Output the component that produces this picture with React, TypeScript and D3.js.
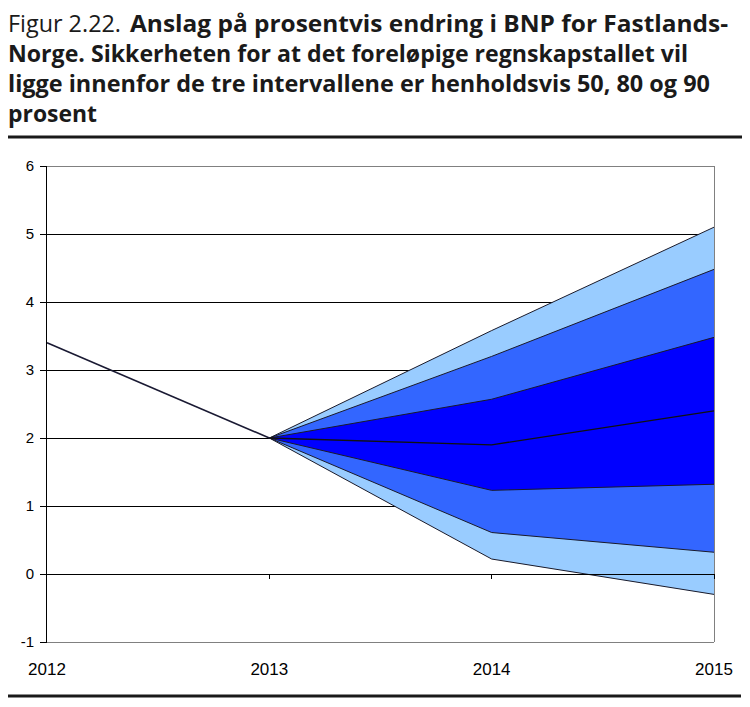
import React from "react";
import * as d3 from "d3";

const years = ["2012", "2013", "2014", "2015"];
const history = [3.4, 2.0];
const forecastYears = ["2013", "2014", "2015"];
const median = [2.0, 1.9, 2.4];
const upper50 = [2.0, 2.57, 3.48];
const lower50 = [2.0, 1.23, 1.32];
const upper80 = [2.0, 3.2, 4.48];
const lower80 = [2.0, 0.61, 0.32];
const upper90 = [2.0, 3.58, 5.1];
const lower90 = [2.0, 0.22, -0.3];
const yTicks = [-1, 0, 1, 2, 3, 4, 5, 6];
const titleLines = [
  "Anslag på prosentvis endring i BNP for Fastlands-",
  "Norge. Sikkerheten for at det foreløpige regnskapstallet vil",
  "ligge innenfor de tre intervallene er henholdsvis 50, 80 og 90",
  "prosent",
];
const titlePrefix = "Figur 2.22.";

export default function App() {
  const x = d3.scalePoint<string>().domain(years).range([47, 714]);
  const y = d3.scaleLinear().domain([-1, 6]).range([642, 166]);

  const bandArea = (up: number[], lo: number[]) =>
    d3
      .area<number>()
      .x((_, i) => x(forecastYears[i])!)
      .y0((_, i) => y(lo[i]))
      .y1((_, i) => y(up[i]))(up.map((_, i) => i)) || "";
  const line = (vals: number[], cats: string[]) =>
    d3
      .line<number>()
      .x((_, i) => x(cats[i])!)
      .y((v) => y(v))(vals) || "";

  const bands = [
    { up: upper90, lo: lower90, fill: "#99CCFF" },
    { up: upper80, lo: lower80, fill: "#3366FF" },
    { up: upper50, lo: lower50, fill: "#0000FF" },
  ];
  const edges = [upper90, lower90, upper80, lower80, upper50, lower50];
  const titleWidths = [598, 680, 702, 89];
  const titleX = [130, 8, 8, 8];

  return (
    <svg
      width={750}
      height={707}
      style={{ position: "absolute", left: 0, top: 0, background: "#fff" }}
    >
      {/* Title */}
      <text
        x={8}
        y={32}
        fontFamily="'Open Sans', sans-serif"
        fontSize={24}
        fontWeight={400}
        fill="#1a1a1a"
        textLength={113}
        lengthAdjust="spacingAndGlyphs"
      >
        {titlePrefix}
      </text>
      {titleLines.map((t, i) => (
        <text
          key={i}
          x={titleX[i]}
          y={32 + i * 30}
          fontFamily="'Open Sans', sans-serif"
          fontSize={24}
          fontWeight={700}
          fill="#1a1a1a"
          textLength={titleWidths[i]}
          lengthAdjust="spacingAndGlyphs"
        >
          {t}
        </text>
      ))}
      <line x1={8} x2={742} y1={137} y2={137} stroke="#1a1a1a" strokeWidth={3} />

      {/* Gridlines */}
      {yTicks
        .filter((t) => t > -1 && t < 6)
        .map((t) => (
          <line
            key={t}
            x1={47}
            x2={714}
            y1={y(t)}
            y2={y(t)}
            stroke="#000"
            strokeWidth={1}
            shapeRendering="crispEdges"
          />
        ))}

      {/* Bands */}
      {bands.map((b, i) => (
        <path key={i} d={bandArea(b.up, b.lo)} fill={b.fill} stroke="none" />
      ))}
      {edges.map((e, i) => (
        <path key={i} d={line(e, forecastYears)} fill="none" stroke="#1a1a2a" strokeWidth={1} />
      ))}
      <path d={line(median, forecastYears)} fill="none" stroke="#111" strokeWidth={1.3} />
      <path d={line(history, years.slice(0, 2))} fill="none" stroke="#1a1a33" strokeWidth={1.6} />

      {/* Plot border */}
      <g shapeRendering="crispEdges">
        <line x1={47} x2={714} y1={y(6)} y2={y(6)} stroke="#808080" strokeWidth={1} />
        <line x1={714} x2={714} y1={y(6)} y2={y(-1)} stroke="#808080" strokeWidth={1} />
        <line x1={47} x2={714} y1={y(-1)} y2={y(-1)} stroke="#808080" strokeWidth={1} />

        {/* Category axis at 0 */}
        <line x1={47} x2={714} y1={y(0)} y2={y(0)} stroke="#000" strokeWidth={1} />
        {years.slice(1).map((c) => (
          <line key={c} x1={x(c)} x2={x(c)} y1={y(0)} y2={y(0) + 5} stroke="#000" strokeWidth={1} />
        ))}

        {/* Value axis */}
        <line x1={46} x2={46} y1={y(6)} y2={y(-1)} stroke="#000" strokeWidth={1} />
        {yTicks.map((t) => (
          <line key={t} x1={40} x2={47} y1={y(t)} y2={y(t)} stroke="#000" strokeWidth={1} />
        ))}
      </g>
      {yTicks.map((t) => (
        <text
          key={t}
          x={34}
          y={y(t)}
          dy="0.36em"
          textAnchor="end"
          fontFamily="'Liberation Sans', Arial, sans-serif"
          fontSize={15}
          fill="#000"
        >
          {t}
        </text>
      ))}
      {years.map((c) => (
        <text
          key={c}
          x={x(c)}
          y={675}
          textAnchor="middle"
          fontFamily="'Liberation Sans', Arial, sans-serif"
          fontSize={17}
          fill="#000"
        >
          {c}
        </text>
      ))}

      <line x1={8} x2={741} y1={696} y2={696} stroke="#1a1a1a" strokeWidth={3} />
    </svg>
  );
}
